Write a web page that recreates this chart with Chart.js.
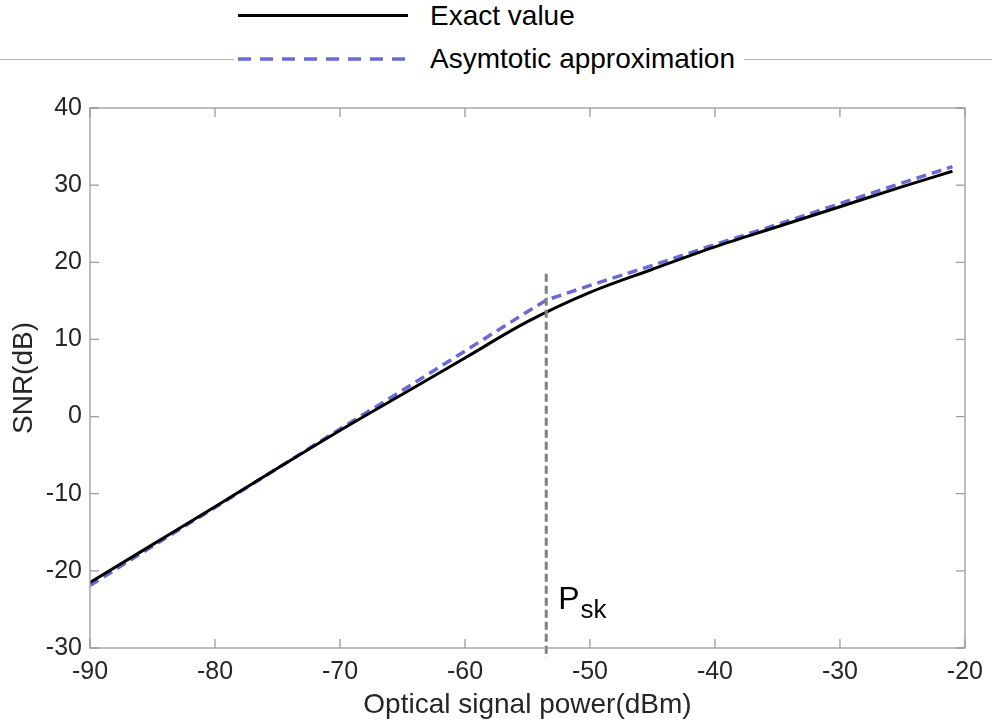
<!DOCTYPE html>
<html>
<head>
<meta charset="utf-8">
<script src="https://cdn.jsdelivr.net/npm/chart.js@4/dist/chart.umd.min.js"></script>
<style>
  html, body { margin: 0; padding: 0; background: #fff; }
  #wrap { position: relative; width: 992px; height: 726px; }
  #chart { position: absolute; left: 0; top: 0; }
  #rule { position: absolute; left: 0; top: 58.5px; width: 992px; height: 1px; background: #b4b4b4; }
  #legend { position: absolute; left: 234px; top: 0; width: 510px; height: 82px; background: #fff;
            font-family: "Liberation Sans", Arial, Helvetica, sans-serif; font-size: 28px; color: #000; }
  .item { position: absolute; left: 0; height: 28px; line-height: 28px; white-space: nowrap; }
  .item svg { position: absolute; left: 4px; top: 0; }
  .item span { position: absolute; left: 196px; top: 0; }
</style>
</head>
<body>
<div id="wrap">
  <canvas id="chart" width="992" height="726"></canvas>
  <div id="rule"></div>
  <div id="legend">
    <div class="item" style="top:2px;">
      <svg width="170" height="28"><line x1="0" y1="13.5" x2="170" y2="13.5" stroke="#000" stroke-width="3"/></svg>
      <span>Exact value</span>
    </div>
    <div class="item" style="top:45px;">
      <svg width="170" height="28"><line x1="0" y1="14" x2="170" y2="14" stroke="#6a6ad6" stroke-width="3.5" stroke-dasharray="13 9"/></svg>
      <span>Asymtotic approximation</span>
    </div>
  </div>
</div>
<script>
// Exact SNR (dB) against optical signal power (dBm)
const exactPower = [-90, -85, -80, -75, -70, -65, -60, -55, -50, -45, -40, -35, -30, -25, -21];
const exactSnr   = [-21.5, -16.6, -11.7, -6.7, -1.8, 2.9, 7.6, 12.3, 16.1, 19.1, 22.0, 24.6, 27.2, 29.8, 31.8];

// Asymptotic approximation (dB): two straight branches meeting at P_sk
const asymPower = [-90, -85, -80, -75, -70, -65, -60, -55, -53.5, -50, -45, -40, -35, -30, -25, -21];
const asymSnr   = [-21.9, -16.8, -11.8, -6.7, -1.6, 3.4, 8.5, 13.6, 15.1, 17.0, 19.6, 22.3, 24.9, 27.6, 30.3, 32.4];

// Knee of the asymptote and the top of its marker line
const pskPower = -53.5;
const pskMarkerTop = 18.5;
const pskLabelLevel = -25;

// Axis tick values
const xTicks = [-90, -80, -70, -60, -50, -40, -30, -20];
const yTicks = [-30, -20, -10, 0, 10, 20, 30, 40];

const FONT = '"Liberation Sans", Arial, Helvetica, sans-serif';
const AXIS_GRAY = '#9b9b9b';
const TEXT_GRAY = '#262626';

const toPoints = (xs, ys) => xs.map((v, i) => ({ x: v, y: ys[i] }));

// Box around the axes, inward tick marks on all four sides, and the P_sk marker
const framePlugin = {
  id: 'frame',
  afterDatasetsDraw(chart) {
    const { ctx, chartArea: a, scales: { x, y } } = chart;
    ctx.save();

    // P_sk marker line
    const px = x.getPixelForValue(pskPower);
    ctx.strokeStyle = '#808080';
    ctx.lineWidth = 3;
    ctx.setLineDash([8, 4]);
    ctx.beginPath();
    ctx.moveTo(px, y.getPixelForValue(pskMarkerTop));
    ctx.lineTo(px, a.bottom + 10);
    ctx.stroke();
    ctx.setLineDash([]);

    // P_sk label
    const base = y.getPixelForValue(pskLabelLevel);
    ctx.fillStyle = '#000';
    ctx.textBaseline = 'alphabetic';
    ctx.textAlign = 'left';
    ctx.font = '32px ' + FONT;
    ctx.fillText('P', px + 12, base);
    const pw = ctx.measureText('P').width;
    ctx.font = '26px ' + FONT;
    ctx.fillText('sk', px + 13 + pw, base + 9);

    // axes box
    ctx.strokeStyle = AXIS_GRAY;
    ctx.lineWidth = 1.3;
    ctx.strokeRect(a.left, a.top, a.right - a.left, a.bottom - a.top);

    // inward ticks
    const len = 9;
    ctx.beginPath();
    xTicks.forEach(v => {
      const p = x.getPixelForValue(v);
      ctx.moveTo(p, a.bottom); ctx.lineTo(p, a.bottom - len);
      ctx.moveTo(p, a.top); ctx.lineTo(p, a.top + len);
    });
    yTicks.forEach(v => {
      const p = y.getPixelForValue(v);
      ctx.moveTo(a.left, p); ctx.lineTo(a.left + len, p);
      ctx.moveTo(a.right, p); ctx.lineTo(a.right - len, p);
    });
    ctx.stroke();
    ctx.restore();
  }
};

new Chart(document.getElementById('chart'), {
  type: 'line',
  data: {
    datasets: [
      {
        label: 'Exact value',
        data: toPoints(exactPower, exactSnr),
        borderColor: '#000000',
        borderWidth: 3,
        pointRadius: 0,
        cubicInterpolationMode: 'monotone',
        fill: false
      },
      {
        label: 'Asymtotic approximation',
        data: toPoints(asymPower, asymSnr),
        borderColor: '#6a6ad6',
        borderWidth: 3.5,
        borderDash: [10, 6],
        pointRadius: 0,
        tension: 0,
        fill: false
      }
    ]
  },
  options: {
    responsive: false,
    animation: false,
    layout: { padding: { top: 108, right: 22, left: 0, bottom: 0 } },
    plugins: { legend: { display: false }, tooltip: { enabled: false } },
    scales: {
      x: {
        type: 'linear',
        min: xTicks[0],
        max: xTicks[xTicks.length - 1],
        afterBuildTicks: s => { s.ticks = xTicks.map(v => ({ value: v })); },
        afterFit: s => { s.height = 78; },
        grid: { display: false, drawTicks: false },
        border: { display: false },
        ticks: { color: TEXT_GRAY, font: { family: FONT, size: 25 }, padding: 9, maxRotation: 0 },
        title: {
          display: true,
          text: 'Optical signal power(dBm)',
          color: TEXT_GRAY,
          font: { family: FONT, size: 28 },
          padding: { top: 0, bottom: 4 }
        }
      },
      y: {
        type: 'linear',
        min: yTicks[0],
        max: yTicks[yTicks.length - 1],
        afterBuildTicks: s => { s.ticks = yTicks.map(v => ({ value: v })); },
        afterFit: s => { s.width = 90; },
        grid: { display: false, drawTicks: false },
        border: { display: false },
        ticks: { color: TEXT_GRAY, font: { family: FONT, size: 25 }, padding: 8 },
        title: {
          display: true,
          text: 'SNR(dB)',
          color: TEXT_GRAY,
          font: { family: FONT, size: 28 },
          padding: { top: 7, bottom: 0 }
        }
      }
    }
  },
  plugins: [framePlugin]
});
</script>
</body>
</html>
